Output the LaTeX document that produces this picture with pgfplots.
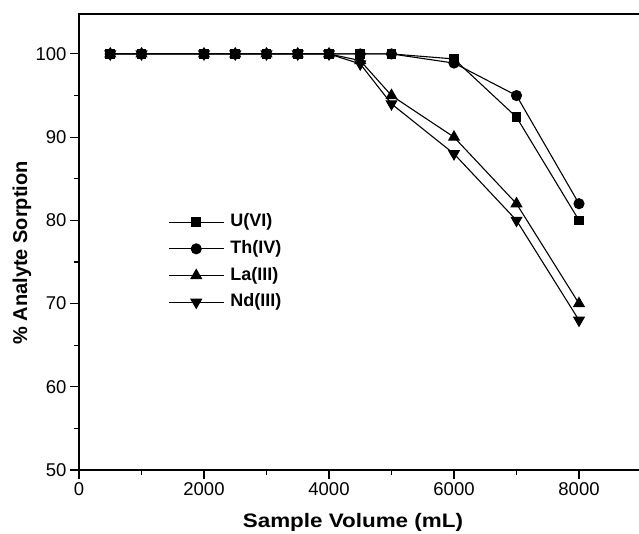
\documentclass[border=0pt]{standalone}
\usepackage{pgfplots}
\pgfplotsset{compat=1.18}
\usepackage{fontspec}
\setmainfont{Liberation Sans}
\newfontfamily\titlefont{Liberation Sans}[FakeStretch=1.15]
\begin{document}
\begin{tikzpicture}
\begin{axis}[
  at={(0,0)}, anchor=south west,
  scale only axis, width=562.5pt, height=456pt,
  xmin=0, xmax=9000, ymin=50, ymax=104.8,
  xtick={0,2000,4000,6000,8000}, minor xtick={1000,3000,5000,7000,9000},
  ytick={50,60,70,80,90,100}, minor ytick={55,65,75,85,95},
  tick align=outside, major tick length=9pt, minor tick length=5pt,
  xtick pos=bottom, ytick pos=left,
  axis line style={line width=1.3pt},
  every tick/.style={line width=1.1pt, black},
  /pgf/number format/assume math mode=true,
  /pgf/number format/1000 sep={},
  scaled x ticks=false,
  ticklabel style={font=\fontsize{18.5}{20}\selectfont},
  xlabel={\titlefont\bfseries Sample Volume (mL)},
  xlabel style={at={(axis description cs:0.487,0)}, anchor=base, yshift=-57pt, font=\fontsize{19.5}{22}\selectfont},
  ylabel={\bfseries \% Analyte Sorption},
  ylabel style={at={(axis description cs:-0.1013,0.476)}, anchor=center, font=\fontsize{20}{22}\selectfont},
  legend style={at={(axis cs:1424,80.95)}, anchor=north west, draw=none, fill=none, inner sep=0pt,
    font=\bfseries\fontsize{18}{20}\selectfont, row sep=7.7pt, column sep=5pt,
    nodes={inner sep=1pt, text height=13pt, text depth=4pt}},
  legend cell align=left,
  legend image code/.code={\draw[mark repeat=2,mark phase=2] plot coordinates {(0pt,0pt)(27.5pt,0pt)(55pt,0pt)};},
]
\addplot[black, line width=1.1pt, mark=square*, mark size=4.3pt, mark options={solid, fill=black}] coordinates {
(500,100)(1000,100)(2000,100)(2500,100)(3000,100)(3500,100)(4000,100)(4500,100)(5000,100)(6000,99.4)(7000,92.4)(8000,80)};
\addlegendentry{U(VI)}
\addplot[black, line width=1.1pt, mark=*, mark size=5pt, mark options={solid, fill=black}] coordinates {
(500,100)(1000,100)(2000,100)(2500,100)(3000,100)(3500,100)(4000,100)(4500,100)(5000,100)(6000,98.9)(7000,95)(8000,82)};
\addlegendentry{Th(IV)}
\addplot[black, line width=1.1pt, mark=triangle*, mark size=6pt, mark options={solid, fill=black}] coordinates {
(500,100)(1000,100)(2000,100)(2500,100)(3000,100)(3500,100)(4000,100)(4500,99.2)(5000,95)(6000,90)(7000,82)(8000,70)};
\addlegendentry{La(III)}
\addplot[black, line width=1.1pt, mark=triangle*, mark size=6pt, mark options={solid, fill=black, rotate=180}] coordinates {
(500,100)(1000,100)(2000,100)(2500,100)(3000,100)(3500,100)(4000,100)(4500,98.8)(5000,94)(6000,88)(7000,80)(8000,68)};
\addlegendentry{Nd(III)}
\end{axis}
\pgfresetboundingbox
\useasboundingbox (-79pt,-63pt) rectangle (560pt,470pt);
\end{tikzpicture}
\end{document}
